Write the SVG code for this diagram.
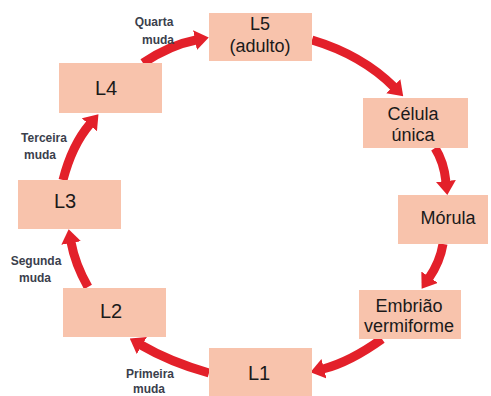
<svg xmlns="http://www.w3.org/2000/svg" width="491" height="396" viewBox="0 0 491 396">
  <defs>
    <style>
      .box { fill: #F8C3AC; }
      .lbl { font-family: "Liberation Sans", Arial, sans-serif; font-size: 18px; fill: #1a1a1a; text-anchor: middle; }
      .big { font-size: 20px; }
      .note { font-family: "Liberation Sans", Arial, sans-serif; font-size: 12px; font-weight: bold; fill: #3b3f4c; text-anchor: middle; }
      .arr { fill: none; stroke: #E3202A; stroke-width: 9; marker-end: url(#ah); }
    </style>
    <marker id="ah" viewBox="0 0 14 20" refX="1" refY="10" markerWidth="14" markerHeight="20" markerUnits="userSpaceOnUse" orient="auto">
      <path d="M0,0 L14,10 L0,20 z" fill="#E3202A"/>
    </marker>
  </defs>
  <rect width="491" height="396" fill="#ffffff"/>

  <g id="connectors">
    <path class="arr" d="M312,40 Q362,55 394,87"/>
    <path class="arr" d="M435,148 Q444,162 446,182"/>
    <path class="arr" d="M443,244 Q440,262 429,278"/>
    <path class="arr" d="M382,339 Q350,362 323,369"/>
    <path class="arr" d="M209,373 Q170,362 141,345"/>
    <path class="arr" d="M88,287 Q75,264 71,242"/>
    <path class="arr" d="M63,180 Q72,145 90,124"/>
    <path class="arr" d="M143,63 Q170,45 196,40"/>
  </g>

  <g id="L5">
    <rect class="box" x="209" y="13" width="103" height="48"/>
    <text class="lbl" x="260" y="30">L5</text>
    <text class="lbl" x="260" y="52">(adulto)</text>
  </g>
  <g id="celula">
    <rect class="box" x="363" y="98" width="105" height="50"/>
    <text class="lbl" x="413" y="120">Célula</text>
    <text class="lbl" x="413" y="141">única</text>
  </g>
  <g id="morula">
    <rect class="box" x="398" y="195" width="90" height="49"/>
    <text class="lbl" x="448" y="224">Mórula</text>
  </g>
  <g id="embriao">
    <rect class="box" x="359" y="290" width="102" height="49"/>
    <text class="lbl" x="409" y="312">Embrião</text>
    <text class="lbl" x="409" y="332">vermiforme</text>
  </g>
  <g id="L1">
    <rect class="box" x="209" y="348" width="103" height="48"/>
    <text class="lbl big" x="259" y="380">L1</text>
  </g>
  <g id="L2">
    <rect class="box" x="63" y="288" width="103" height="49"/>
    <text class="lbl big" x="111" y="318">L2</text>
  </g>
  <g id="L3">
    <rect class="box" x="18" y="180" width="103" height="49"/>
    <text class="lbl big" x="65" y="208">L3</text>
  </g>
  <g id="L4">
    <rect class="box" x="59" y="63" width="103" height="50"/>
    <text class="lbl big" x="106" y="95">L4</text>
  </g>

  <g id="labels">
    <text class="note" x="154" y="26">Quarta</text>
    <text class="note" x="158" y="44">muda</text>
    <text class="note" x="44" y="142">Terceira</text>
    <text class="note" x="40" y="159">muda</text>
    <text class="note" x="36" y="265">Segunda</text>
    <text class="note" x="35" y="282">muda</text>
    <text class="note" x="150" y="378">Primeira</text>
    <text class="note" x="149" y="393">muda</text>
  </g>
</svg>
